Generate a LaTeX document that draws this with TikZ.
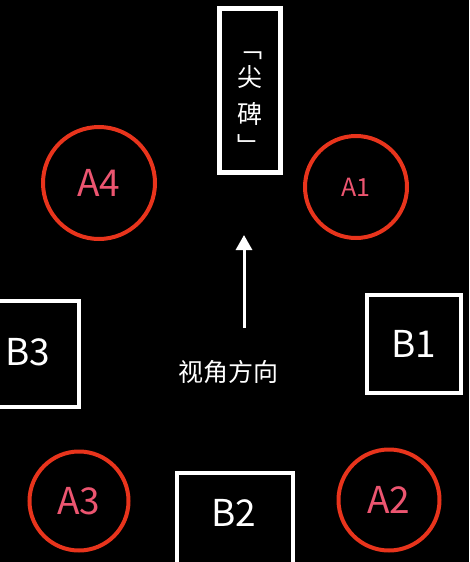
\documentclass[tikz,border=0pt]{standalone}
\usepackage{fontspec}
\setmainfont{Noto Sans CJK SC}
\usetikzlibrary{arrows.meta}
\definecolor{ringred}{HTML}{E8341C}
\definecolor{labelpink}{HTML}{EC5570}
\tikzset{
  ring/.style={circle, draw=ringred, line width=4pt, text=labelpink, inner sep=0pt},
  block/.style={draw=white, line width=4.5pt, text=white, inner sep=0pt},
  big/.style={font=\fontsize{37}{40}\selectfont},
  cjk/.style={font=\fontsize{25}{37}\selectfont, text=white},
}
\begin{document}
\begin{tikzpicture}[x=1pt, y=-1pt]
\fill[black] (0,0) rectangle (469,562);
\useasboundingbox (0,0) rectangle (469,562);
% stele and view direction
\node[block, minimum width=61pt, minimum height=164pt] (stele) at (250,90.5) {};
\node[cjk, align=center] (name) at (250,104) {﹁\\[-8pt]尖\\碑\\[-5pt]﹂};
\coordinate (tail) at (244,328);
\coordinate (tip) at (244,235);
\draw[white, line width=3pt, -{Triangle[width=16pt,length=15pt]}] (tail) -- (tip);
\node[cjk] (view) at (228,372) {视角方向};
% circles
\node[ring, big, minimum size=112pt] (a4) at (99,183) {A4};
\node[ring, minimum size=102pt, font=\fontsize{25}{28}\selectfont] (a1) at (356,187) {A1};
\node[ring, big, minimum size=99pt] (a3) at (79,501) {A3};
\node[ring, big, minimum size=101pt] (a2) at (389,500) {A2};
% boxes
\node[block, big, minimum width=94pt, minimum height=98pt] (b1) at (414,344) {B1};
\draw[white, line width=4.5pt] (-10,301) rectangle (79,407);
\node[big, text=white] (b3) at (28,352) {B3};
\draw[white, line width=4.5pt] (177,473) rectangle (293,600);
\node[big, text=white] (b2) at (234,513) {B2};
\end{tikzpicture}
\end{document}
